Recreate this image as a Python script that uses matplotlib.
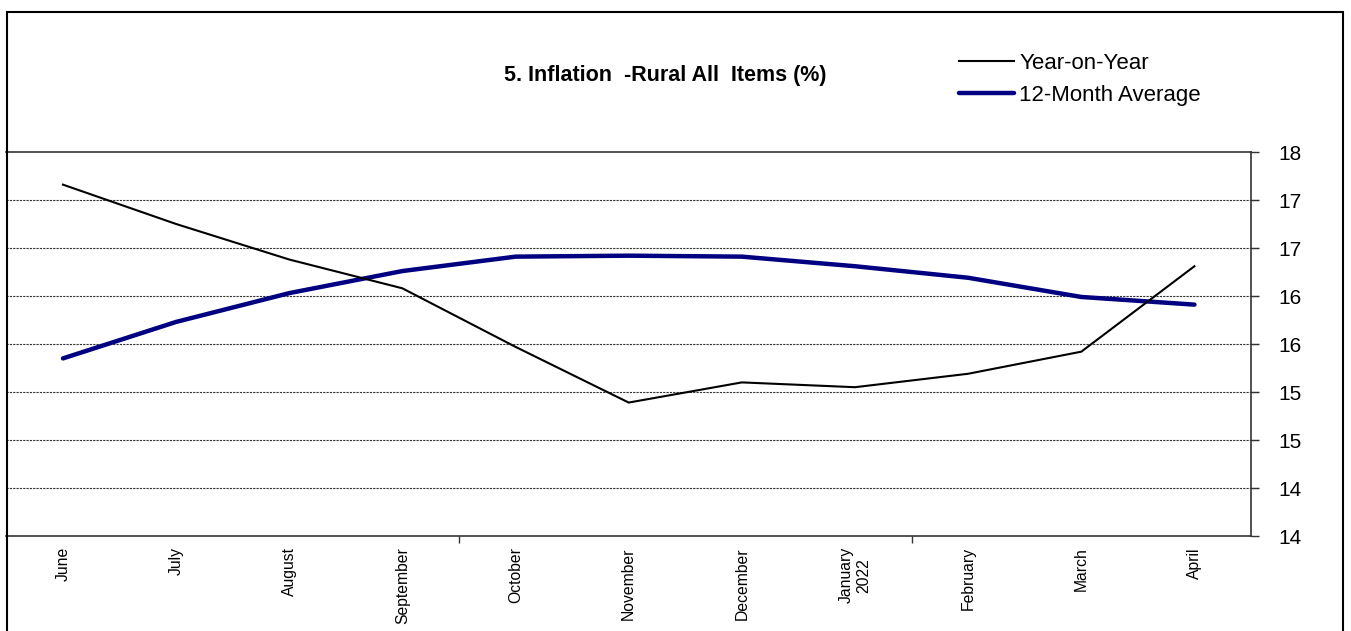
import matplotlib
matplotlib.use("Agg")
import matplotlib.pyplot as plt
from matplotlib.patches import Rectangle

plt.rcParams['font.family'] = ['Liberation Sans', 'DejaVu Sans']

months = ["June", "July", "August", "September", "October", "November",
          "December", "January\n2022", "February", "March", "April"]
yoy = [17.66, 17.25, 16.88, 16.58, 15.97, 15.39, 15.60, 15.55, 15.69, 15.92, 16.81]
avg12 = [15.85, 16.23, 16.53, 16.76, 16.91, 16.92, 16.91, 16.81, 16.69, 16.49, 16.41]
yticks = [14, 14.5, 15, 15.5, 16, 16.5, 17, 17.5, 18]
ytick_labels = ["14", "14", "15", "15", "16", "16", "17", "17", "18"]

W, H = 1351, 631
fig = plt.figure(figsize=(W / 100, H / 100), dpi=100)

# outer chart border
fig.patches.append(Rectangle((7 / W, -0.05), (1343 - 7) / W, (H - 12) / H + 0.05,
                             transform=fig.transFigure, fill=False,
                             edgecolor="black", linewidth=1.5))

ax = fig.add_axes([6.4 / W, 1 - 536 / H, (1251 - 6.4) / W, (536 - 152) / H])
x = list(range(len(months)))
ax.plot(x, yoy, color="black", linewidth=1.5, label="Year-on-Year", zorder=5)
ax.plot(x, avg12, color="#000080", linewidth=3.2, label="12-Month Average",
        solid_capstyle="round", zorder=4)

ax.set_xlim(-0.5, len(months) - 0.5)
ax.set_ylim(14, 18)

for v in yticks[1:-1]:
    ax.axhline(v, color="#333333", linestyle=(0, (2, 1)), linewidth=0.8, zorder=1,
               clip_on=False, xmax=1 + 8 / 1245)

ax.spines["left"].set_visible(False)
for s in ["top", "bottom", "right"]:
    ax.spines[s].set_color("#333333")
    ax.spines[s].set_linewidth(1.2)

ax.yaxis.tick_right()
ax.set_yticks(yticks)
ax.set_yticklabels(ytick_labels, fontsize=15)
ax.tick_params(axis="y", direction="out", length=6, width=1, color="#333333", pad=14)

ax.set_xticks(x)
ax.set_xticklabels(months, rotation=90, fontsize=11.3, va="top", ha="center",
                   multialignment="center")
ax.tick_params(axis="x", which="major", length=0, pad=8)
ax.set_xticks([3.5, 7.5], minor=True)
ax.tick_params(axis="x", which="minor", direction="out", length=5, width=1, color="#333333")

fig.text(665 / W, 1 - 75 / H, "5. Inflation  -Rural All  Items (%)", ha="center",
         va="center", fontsize=15.5, fontweight="bold")

ax.legend(loc="upper left", bbox_to_anchor=(948 / W, 1 - 42 / H),
          bbox_transform=fig.transFigure, frameon=False, fontsize=16,
          handlelength=2.45, handletextpad=0.25, labelspacing=0.47, borderpad=0)

fig.savefig("out.png", dpi=100)
